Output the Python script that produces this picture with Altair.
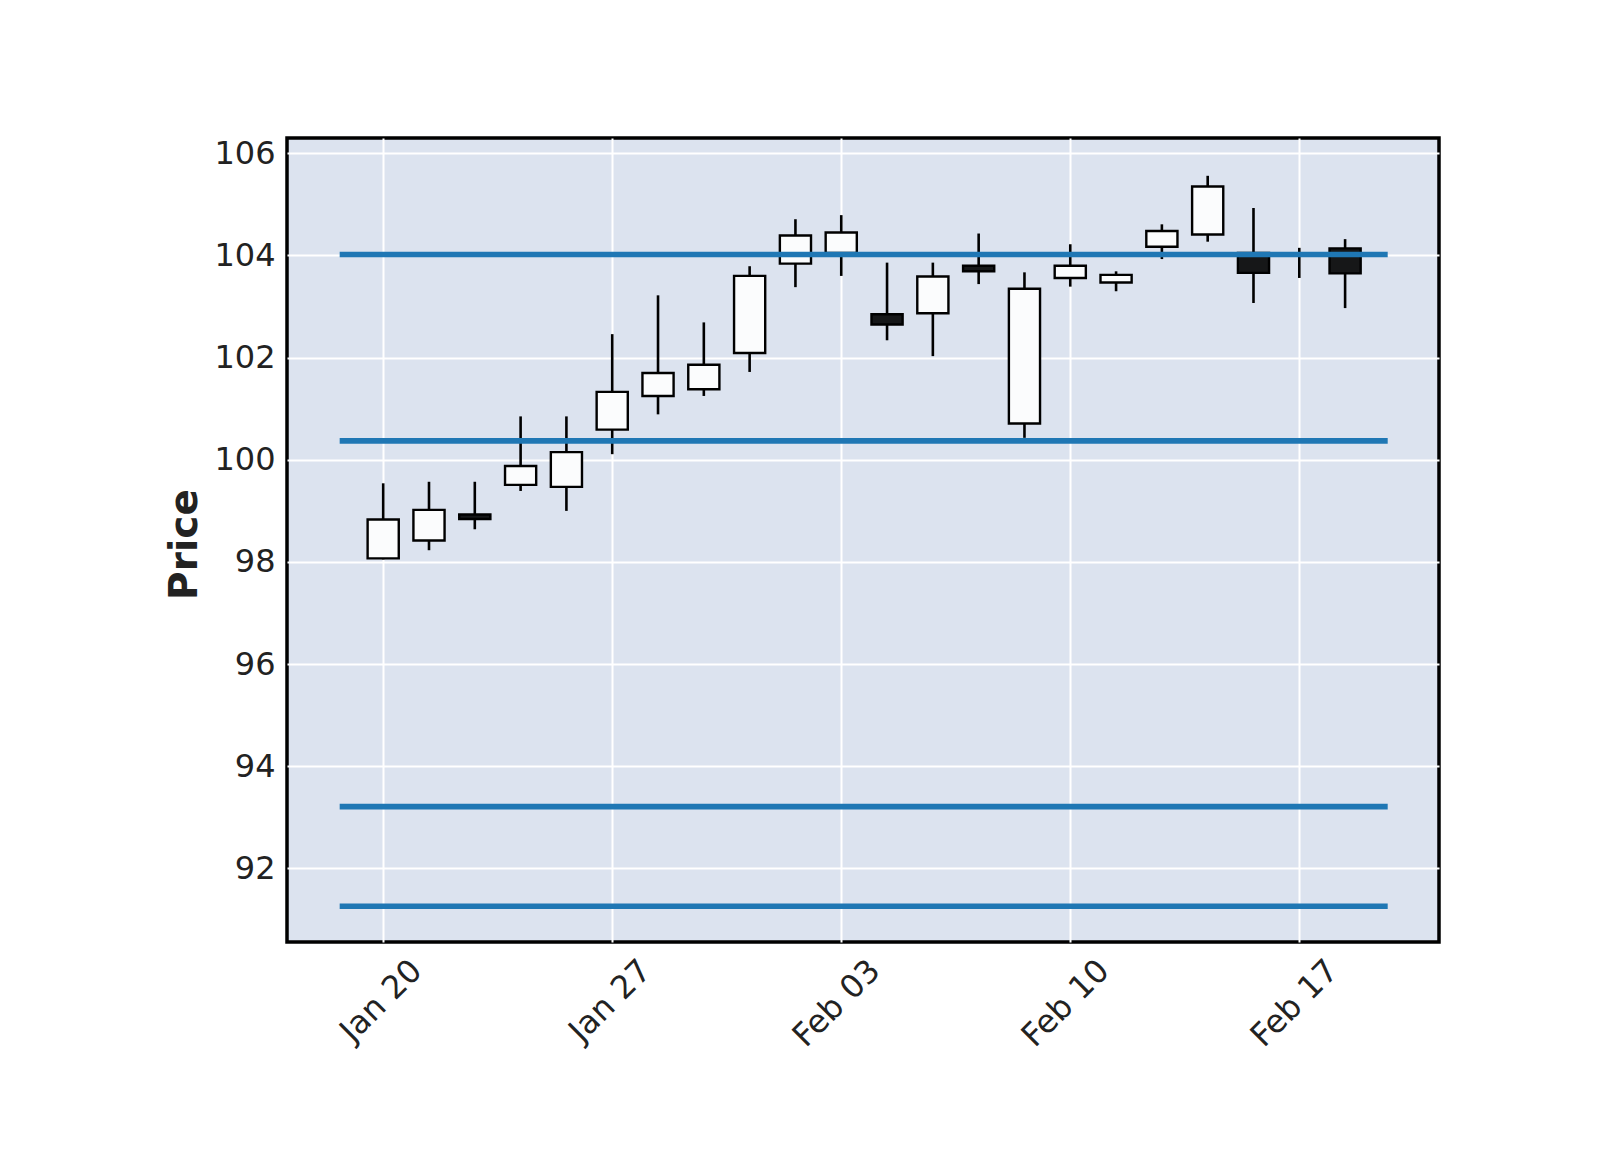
import altair as alt
import pandas as pd

dates = ["2020-01-20", "2020-01-21", "2020-01-22", "2020-01-23", "2020-01-24",
         "2020-01-27", "2020-01-28", "2020-01-29", "2020-01-30", "2020-01-31",
         "2020-02-03", "2020-02-04", "2020-02-05", "2020-02-06", "2020-02-07",
         "2020-02-10", "2020-02-11", "2020-02-12", "2020-02-13", "2020-02-14",
         "2020-02-17", "2020-02-18"]
opens = [98.07, 98.42, 98.93, 99.51, 99.47, 100.59, 101.25, 101.38, 102.09, 103.84,
         104.05, 102.85, 102.87, 103.80, 100.71, 103.56, 103.47, 104.17, 104.41, 104.05,
         104.02, 104.14]
highs = [99.54, 99.57, 99.57, 100.85, 100.85, 102.46, 103.22, 102.69, 103.79, 104.71,
         104.79, 103.86, 103.86, 104.43, 103.67, 104.22, 103.69, 104.61, 105.56, 104.93,
         104.15, 104.32]
lows = [98.05, 98.23, 98.64, 99.39, 99.00, 100.11, 100.89, 101.25, 101.72, 103.38,
        103.60, 102.34, 102.03, 103.44, 100.43, 103.39, 103.30, 103.93, 104.27, 103.07,
        103.56, 102.97]
closes = [98.83, 99.02, 98.84, 99.88, 100.15, 101.33, 101.70, 101.86, 103.60, 104.39,
          104.45, 102.65, 103.59, 103.69, 103.35, 103.80, 103.62, 104.48, 105.35, 103.66,
          104.02, 103.65]
hline_levels = [104.02, 100.37, 93.21, 91.26]
tick_index = [0, 5, 10, 15, 20]
tick_labels = ["Jan 20", "Jan 27", "Feb 03", "Feb 10", "Feb 17"]
y_ticks = [92, 94, 96, 98, 100, 102, 104, 106]

df = pd.DataFrame({"date": dates, "open": opens, "high": highs, "low": lows, "close": closes})
df["idx"] = range(len(df))
n = len(df)
hl = pd.DataFrame({"level": hline_levels})

FONT = "DejaVu Sans"
label_expr = " : ".join(
    [f"datum.value == {i} ? '{t}'" for i, t in zip(tick_index, tick_labels)]) + " : ''"

xscale = alt.Scale(domain=[-2.1, n + 1.05], nice=False, zero=False)
yscale = alt.Scale(domain=[90.56, 106.3], nice=False, zero=False)

xaxis = alt.Axis(values=tick_index, labelExpr=label_expr, title=None, ticks=False,
                 domain=False, grid=True, gridColor="white", gridWidth=2,
                 labelAngle=-45, labelAlign="right", labelBaseline="middle",
                 labelOffset=33, labelPadding=23, labelFont=FONT, labelFontSize=32,
                 labelColor="#222222")
yaxis = alt.Axis(values=y_ticks, title="Price", ticks=False, domain=False, grid=True,
                 gridColor="white", gridWidth=2, labelFont=FONT, labelFontSize=32,
                 labelColor="#222222", labelPadding=12, titleFont=FONT,
                 titleFontSize=39, titleFontWeight="bold", titleColor="#222222",
                 titlePadding=9, titleY=406)

base = alt.Chart(df)

wicks = base.mark_rule(color="black", strokeWidth=2.6).encode(
    x=alt.X("idx:Q", scale=xscale, axis=xaxis),
    y=alt.Y("low:Q", scale=yscale, axis=yaxis),
    y2="high:Q",
)

bodies = base.transform_calculate(
    x0="datum.idx - 0.34", x1="datum.idx + 0.34",
    up="datum.close >= datum.open",
).mark_rect(stroke="black", strokeWidth=2.4).encode(
    x=alt.X("x0:Q", scale=xscale),
    x2="x1:Q",
    y=alt.Y("open:Q", scale=yscale),
    y2="close:Q",
    fill=alt.condition("datum.up", alt.value("#fbfcfd"), alt.value("#161718")),
)

lines = alt.Chart(hl).transform_calculate(
    xs=f"{-0.95}", xe=f"{n - 1 + 0.93}"
).mark_rule(color="#1f77b4", strokeWidth=5.6).encode(
    y=alt.Y("level:Q", scale=yscale),
    x=alt.X("xs:Q", scale=xscale),
    x2="xe:Q",
)

chart = alt.layer(wicks, bodies, lines).properties(
    width=1152, height=804,
    autosize=alt.AutoSizeParams(type="none"),
    padding={"left": 287, "top": 138, "right": 161, "bottom": 208},
    background="white",
).configure_view(
    fill="#dce3ef", stroke="black", strokeWidth=3.5
)

chart.save("out.html", embed_options={"renderer": "svg", "actions": False})
